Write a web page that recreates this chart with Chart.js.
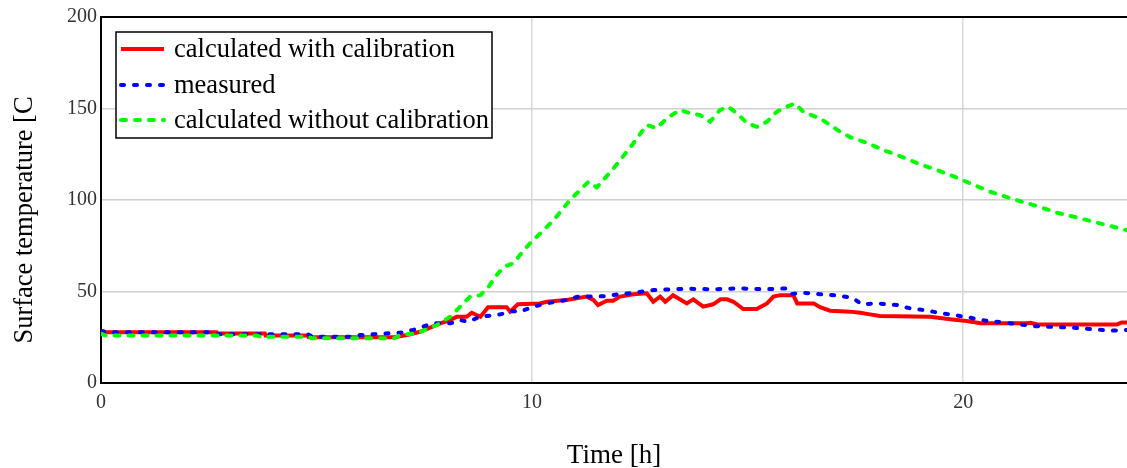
<!DOCTYPE html>
<html>
<head>
<meta charset="utf-8">
<script src="https://cdn.jsdelivr.net/npm/chart.js@4.4.1/dist/chart.umd.min.js"></script>
<style>
  html, body { margin: 0; padding: 0; background: #fff; }
  #wrap { width: 1127px; height: 468px; position: relative; }
</style>
</head>
<body>
<div id="wrap"><canvas id="c" width="1127" height="468"></canvas></div>
<script>
// ---- data (time in hours, temperature in °C) ----
const seriesLabels = ["calculated with calibration", "measured", "calculated without calibration"];

const tCalib = [0, 0.1, 2.68, 2.7, 3.8, 3.82, 4.8, 4.82, 6.8, 7.1, 7.4, 7.87, 8.1, 8.25, 8.48, 8.6, 8.8, 8.98, 9.41, 9.49, 9.67, 10.18, 10.34, 10.8, 11.27, 11.42, 11.53, 11.73, 11.88, 12.04, 12.35, 12.66, 12.81, 12.97, 13.09, 13.27, 13.59, 13.74, 13.97, 14.2, 14.37, 14.52, 14.67, 14.9, 15.21, 15.45, 15.6, 15.75, 16.06, 16.15, 16.53, 16.68, 16.91, 17.38, 17.61, 17.84, 18.07, 19.23, 19.7, 20.08, 20.4, 21.48, 21.56, 21.72, 23.57, 23.68, 23.8];
const vCalib = [28.5, 27.7, 27.7, 27.1, 27.1, 25.9, 25.9, 25.0, 25.0, 26.2, 28, 32.6, 34.4, 36.2, 36.2, 38.4, 36.2, 41.4, 41.4, 39, 43, 43.5, 44.4, 45.4, 47.2, 45.4, 42.6, 45, 45, 47.2, 48.5, 49, 44.4, 47.2, 44.4, 48, 43.5, 45.7, 41.7, 43, 45.7, 45.7, 44.4, 40.4, 40.4, 43.5, 47.2, 48, 48, 43.5, 43.5, 41.4, 39.5, 39, 38.4, 37.5, 36.6, 36.2, 34.8, 33.9, 32.6, 32.6, 32.9, 32, 32, 33.1, 33.1];

const tMeas = [0, 0.2, 2.6, 2.7, 4.8, 4.9, 5.9, 6.0, 6.94, 7.24, 7.7, 8.1, 8.33, 8.51, 8.8, 9.26, 9.56, 9.72, 10.03, 10.34, 10.8, 11.11, 11.42, 11.73, 12.04, 12.35, 12.81, 13.59, 14.2, 14.8, 15.4, 15.9, 15.99, 16.3, 16.68, 17.15, 17.45, 17.65, 18.0, 18.46, 18.77, 19.07, 19.3, 19.47, 19.7, 19.93, 20.16, 20.4, 21.0, 21.63, 22.55, 23.41, 23.8];
const vMeas = [28.4, 27.7, 27.7, 26.6, 26.6, 25.3, 25.3, 26.2, 27.5, 29, 32.6, 32.6, 34.4, 33.5, 36.2, 37.5, 39.3, 39, 41.7, 43.5, 45.4, 47.5, 47.2, 47.5, 48.6, 49.3, 50.8, 51.5, 51.2, 51.7, 51.2, 51.7, 48.6, 49.3, 48.5, 47.7, 46.3, 43, 43.5, 42.6, 40.8, 39.9, 39, 38.1, 37.5, 36.6, 35.7, 34.4, 32.9, 31.1, 30.2, 28.6, 29];

const tNoCalib = [0, 0.1, 3.6, 3.7, 4.8, 4.9, 6.8, 6.94, 7.32, 7.79, 8.1, 8.33, 8.56, 8.8, 8.99, 9.18, 9.34, 9.57, 9.72, 9.95, 10.27, 10.5, 10.88, 11.31, 11.5, 11.89, 12.35, 12.66, 12.89, 13.12, 13.43, 13.67, 13.9, 14.13, 14.36, 14.55, 14.75, 14.98, 15.21, 15.45, 15.68, 15.91, 16.1, 16.3, 16.68, 16.91, 17.15, 17.38, 17.76, 18.15, 18.61, 19.08, 19.39, 19.85, 20.16, 20.63, 21.17, 21.71, 22.17, 22.56, 23.02, 23.64, 23.8];
const vNoCalib = [27, 25.9, 25.9, 25.3, 25.3, 24.4, 24.4, 26.2, 27.1, 31.7, 36.2, 41.7, 47.2, 48, 52.6, 59, 63.5, 65.4, 70, 76.3, 83.6, 89, 100, 110, 106.9, 117.3, 131, 141, 139.2, 144.6, 149.2, 147.4, 146.4, 142.8, 149.2, 151, 147.4, 142.2, 140, 142.8, 148.3, 151, 152.8, 148, 144.6, 141, 137.3, 134.3, 131.3, 127.3, 123.3, 118.8, 116.4, 112.2, 109.1, 104.5, 100.4, 96.7, 93.1, 90.9, 88.1, 84.5, 83.5];

const xMin = 0, xMax = 23.8, xStep = 10;
const yMin = 0, yMax = 200, yStep = 50;
const xTitle = "Time [h]";
const yTitle = "Surface temperature [C";

const toPts = (ts, vs) => ts.map((t, i) => ({ x: t, y: vs[i] }));

const SERIF = "'Liberation Serif', 'DejaVu Serif', serif";

const frameAndLegend = {
  id: 'frameAndLegend',
  afterDatasetsDraw(chart) {
    const ctx = chart.ctx, a = chart.chartArea;
    ctx.save();
    // top frame line
    ctx.strokeStyle = '#000';
    ctx.lineWidth = 2;
    ctx.beginPath();
    ctx.moveTo(a.left, a.top);
    ctx.lineTo(a.right, a.top);
    ctx.stroke();
    // y axis title (rotated)
    ctx.save();
    ctx.translate(25, 220);
    ctx.rotate(-Math.PI / 2);
    ctx.fillStyle = '#000';
    ctx.font = "26.5px " + SERIF;
    ctx.textAlign = 'center';
    ctx.textBaseline = 'middle';
    ctx.fillText(yTitle, 0, 0);
    ctx.restore();
    // legend box
    const bx = 116, by = 32, bw = 376, bh = 106;
    ctx.fillStyle = '#fff';
    ctx.fillRect(bx, by, bw, bh);
    ctx.lineWidth = 1.5;
    ctx.strokeStyle = '#000';
    ctx.strokeRect(bx, by, bw, bh);
    const rows = [49, 85, 120];
    chart.data.datasets.forEach((ds, i) => {
      const y = rows[i];
      ctx.save();
      ctx.strokeStyle = ds.borderColor;
      ctx.lineWidth = ds.borderWidth;
      ctx.lineCap = ds.borderCapStyle || 'butt';
      ctx.setLineDash(ds.borderDash || []);
      ctx.beginPath();
      ctx.moveTo(121, y);
      ctx.lineTo(164, y);
      ctx.stroke();
      ctx.restore();
      ctx.fillStyle = '#000';
      ctx.font = "26.5px " + SERIF;
      ctx.textBaseline = 'middle';
      ctx.textAlign = 'left';
      ctx.fillText(ds.label, 174, y + 1);
    });
    ctx.restore();
  }
};

new Chart(document.getElementById('c'), {
  type: 'line',
  data: {
    datasets: [
      { label: seriesLabels[0], data: toPts(tCalib, vCalib), borderColor: '#ff0000', borderWidth: 4, pointRadius: 0, tension: 0, order: 3 },
      { label: seriesLabels[1], data: toPts(tMeas, vMeas), borderColor: '#0000ff', borderWidth: 4, borderDash: [3, 10], borderCapStyle: 'round', pointRadius: 0, tension: 0, order: 2 },
      { label: seriesLabels[2], data: toPts(tNoCalib, vNoCalib), borderColor: '#00ff00', borderWidth: 4, borderDash: [5, 9], borderCapStyle: 'round', pointRadius: 0, tension: 0, order: 1 }
    ]
  },
  options: {
    responsive: false,
    animation: false,
    layout: { padding: { top: 17, right: 0, bottom: 0, left: 0 } },
    plugins: { legend: { display: false }, tooltip: { enabled: false } },
    scales: {
      x: {
        type: 'linear', min: xMin, max: xMax,
        afterFit: s => { s.height = 85; },
        ticks: { stepSize: xStep, includeBounds: false, color: '#333', font: { family: SERIF, size: 20 }, padding: 8 },
        grid: { color: '#d8d8d8', lineWidth: 1.5, drawTicks: false },
        border: { color: '#000', width: 2 },
        title: { display: true, text: xTitle, color: '#000', font: { family: SERIF, size: 27, lineHeight: 1.0 }, padding: { top: 0, bottom: -1 } }
      },
      y: {
        type: 'linear', min: yMin, max: yMax,
        afterFit: s => { s.width = 101; },
        ticks: { stepSize: yStep, color: '#333', font: { family: SERIF, size: 20 }, padding: 4 },
        grid: { color: '#d0d0d0', lineWidth: 1.5, drawTicks: false },
        border: { color: '#000', width: 2 },
        title: { display: false, text: yTitle }
      }
    }
  },
  plugins: [frameAndLegend]
});
</script>
</body>
</html>
